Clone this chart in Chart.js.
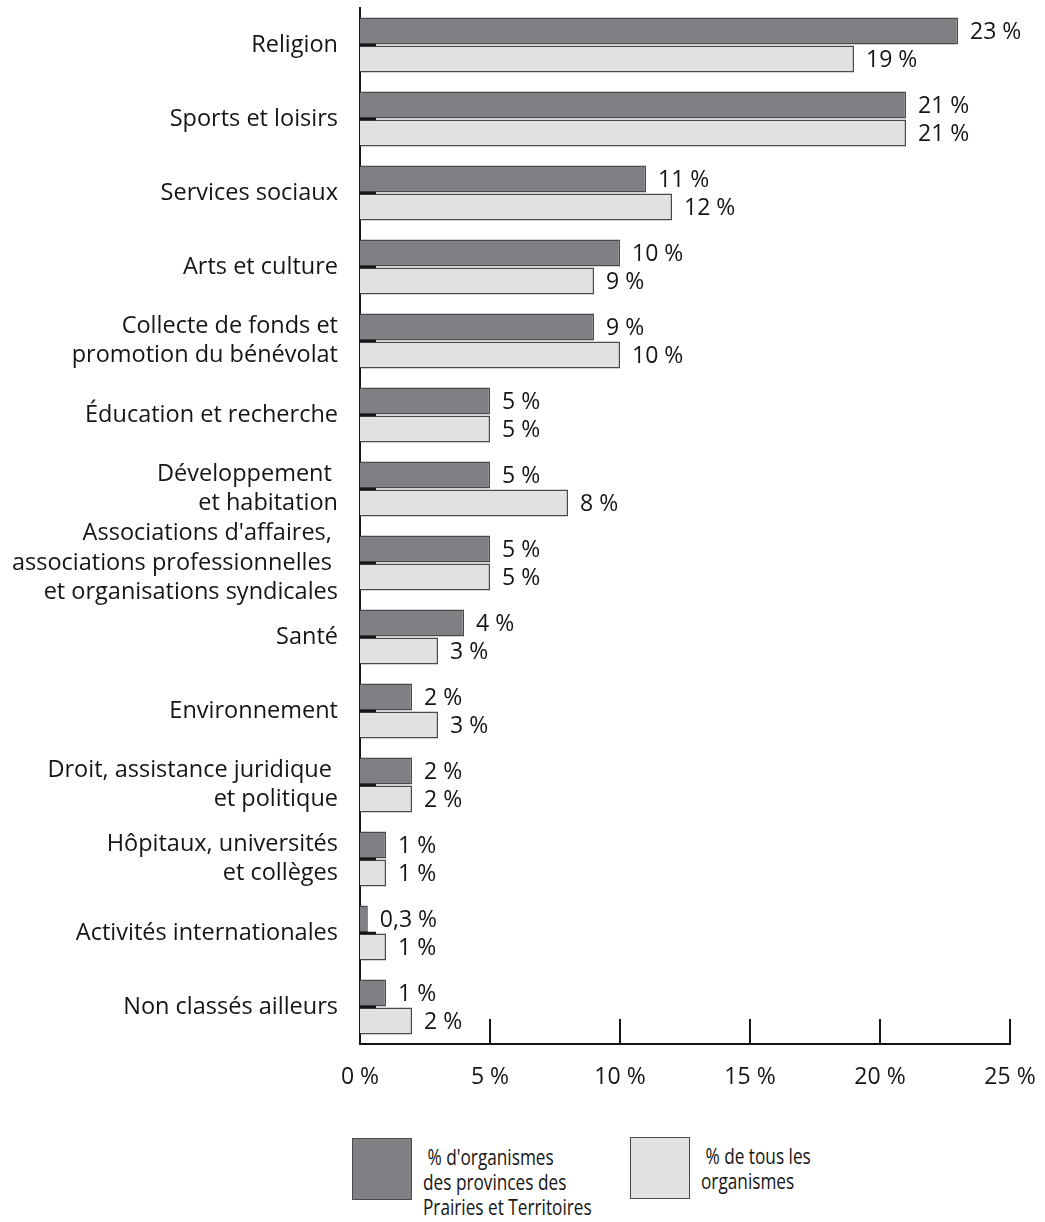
<!DOCTYPE html>
<html>
<head>
<meta charset="utf-8">
<script src="https://cdn.jsdelivr.net/npm/chart.js@4/dist/chart.umd.min.js"></script>
<style>
  html, body { margin: 0; padding: 0; background: #fff; }
  #wrap { position: relative; width: 1045px; height: 1222px; }
  #c { position: absolute; left: 0; top: 0; }
  .key { position: absolute; display: flex; align-items: flex-start; font-family: 'Open Sans', sans-serif; font-size: 21px; line-height: 25px; color: #151515; }
  .swatch { box-sizing: border-box; width: 60px; height: 62px; border: 1.5px solid #4a4a4a; flex: none; }
  .key-text { margin-left: 11px; margin-top: 7px; white-space: pre; transform: scaleX(0.82); transform-origin: left top; }
</style>
</head>
<body>
<div id="wrap">
  <canvas id="c" width="1045" height="1110"></canvas>
  <div class="key" id="key0" style="left:352px; top:1138px;"></div>
  <div class="key" id="key1" style="left:630px; top:1137px;"></div>
</div>
<script>
// Sectors (multi-line labels are arrays of lines)
const categories = [
  'Religion',
  'Sports et loisirs',
  'Services sociaux',
  'Arts et culture',
  ['Collecte de fonds et', 'promotion du bénévolat'],
  'Éducation et recherche',
  ['Développement ', 'et habitation'],
  ["Associations d'affaires, ", 'associations professionnelles ', 'et organisations syndicales'],
  'Santé',
  'Environnement',
  ['Droit, assistance juridique ', 'et politique'],
  ['Hôpitaux, universités', 'et collèges'],
  'Activités internationales',
  'Non classés ailleurs'
];

// Share of organisations by sector, in %
const prairiesPct = [23, 21, 11, 10, 9, 5, 5, 5, 4, 2, 2, 1, 0.3, 1];
const allOrgsPct  = [19, 21, 12, 9, 10, 5, 8, 5, 3, 3, 2, 1, 1, 2];

const seriesLabels = [
  [" % d'organismes", 'des provinces des', 'Prairies et Territoires'],
  [' % de tous les', 'organismes']
];

const xTickValues = [0, 5, 10, 15, 20, 25];

const FONT = "'Open Sans', sans-serif";
const INK = '#151515';
const fmtPct = v => String(v).replace('.', ',') + ' %';

// Short inward tick marks on both axes
const innerTicks = {
  id: 'innerTicks',
  afterDatasetsDraw(chart) {
    const { ctx, chartArea, scales } = chart;
    ctx.save();
    ctx.strokeStyle = INK;
    ctx.lineWidth = 2.5;
    categories.forEach((_, i) => {
      const y = scales.y.getPixelForValue(i);
      ctx.beginPath();
      ctx.moveTo(chartArea.left, y);
      ctx.lineTo(chartArea.left + 16, y);
      ctx.stroke();
    });
    ctx.lineWidth = 2;
    xTickValues.filter(v => v > 0).forEach(v => {
      const x = scales.x.getPixelForValue(v);
      ctx.beginPath();
      ctx.moveTo(x, chartArea.bottom);
      ctx.lineTo(x, chartArea.bottom - 25);
      ctx.stroke();
    });
    ctx.restore();
  }
};

// Value labels at the end of each bar
const valueLabels = {
  id: 'valueLabels',
  afterDatasetsDraw(chart) {
    const { ctx } = chart;
    ctx.save();
    ctx.font = '23px ' + FONT;
    ctx.fillStyle = INK;
    ctx.textAlign = 'left';
    ctx.textBaseline = 'middle';
    chart.data.datasets.forEach((ds, di) => {
      chart.getDatasetMeta(di).data.forEach((bar, i) => {
        ctx.fillText(fmtPct(ds.data[i]), bar.x + 12, bar.y + 1.5);
      });
    });
    ctx.restore();
  }
};

const chart = new Chart(document.getElementById('c'), {
  type: 'bar',
  data: {
    labels: categories,
    datasets: [
      {
        label: seriesLabels[0].join(' '),
        data: prairiesPct,
        backgroundColor: '#808084',
        borderColor: '#4a4a4c',
        borderWidth: 1.5,
        barPercentage: 0.96,
        categoryPercentage: 0.76
      },
      {
        label: seriesLabels[1].join(' '),
        data: allOrgsPct,
        backgroundColor: '#e1e1e3',
        borderColor: '#4a4a4c',
        borderWidth: 1.5,
        barPercentage: 0.96,
        categoryPercentage: 0.76
      }
    ]
  },
  options: {
    indexAxis: 'y',
    responsive: false,
    animation: false,
    devicePixelRatio: 1,
    layout: { padding: { top: 8, right: 35, bottom: 0, left: 0 } },
    plugins: { legend: { display: false }, tooltip: { enabled: false } },
    scales: {
      x: {
        min: 0,
        max: 25,
        afterBuildTicks: s => { s.ticks = xTickValues.map(v => ({ value: v })); },
        afterFit: s => { s.height = 66; s.paddingLeft = 0; s.paddingRight = 0; },
        ticks: {
          callback: v => fmtPct(v),
          font: { family: FONT, size: 23 },
          color: INK,
          padding: 20,
          maxRotation: 0
        },
        grid: { display: false, drawTicks: false },
        border: { display: true, color: INK, width: 2 }
      },
      y: {
        offset: true,
        afterFit: s => { s.width = 360; s.paddingTop = 0; s.paddingBottom = 0; },
        ticks: {
          autoSkip: false,
          font: { family: FONT, size: 23.5, lineHeight: 1.25 },
          color: INK,
          padding: 22
        },
        grid: { display: false, drawTicks: false },
        border: { display: true, color: INK, width: 2 }
      }
    }
  },
  plugins: [valueLabels, innerTicks]
});

// Legend below the chart, built from the datasets
chart.data.datasets.forEach((ds, i) => {
  const key = document.getElementById('key' + i);
  const sw = document.createElement('div');
  sw.className = 'swatch';
  sw.style.background = ds.backgroundColor;
  const txt = document.createElement('div');
  txt.className = 'key-text';
  txt.textContent = seriesLabels[i].join('\n');
  key.appendChild(sw);
  key.appendChild(txt);
});
</script>
</body>
</html>
